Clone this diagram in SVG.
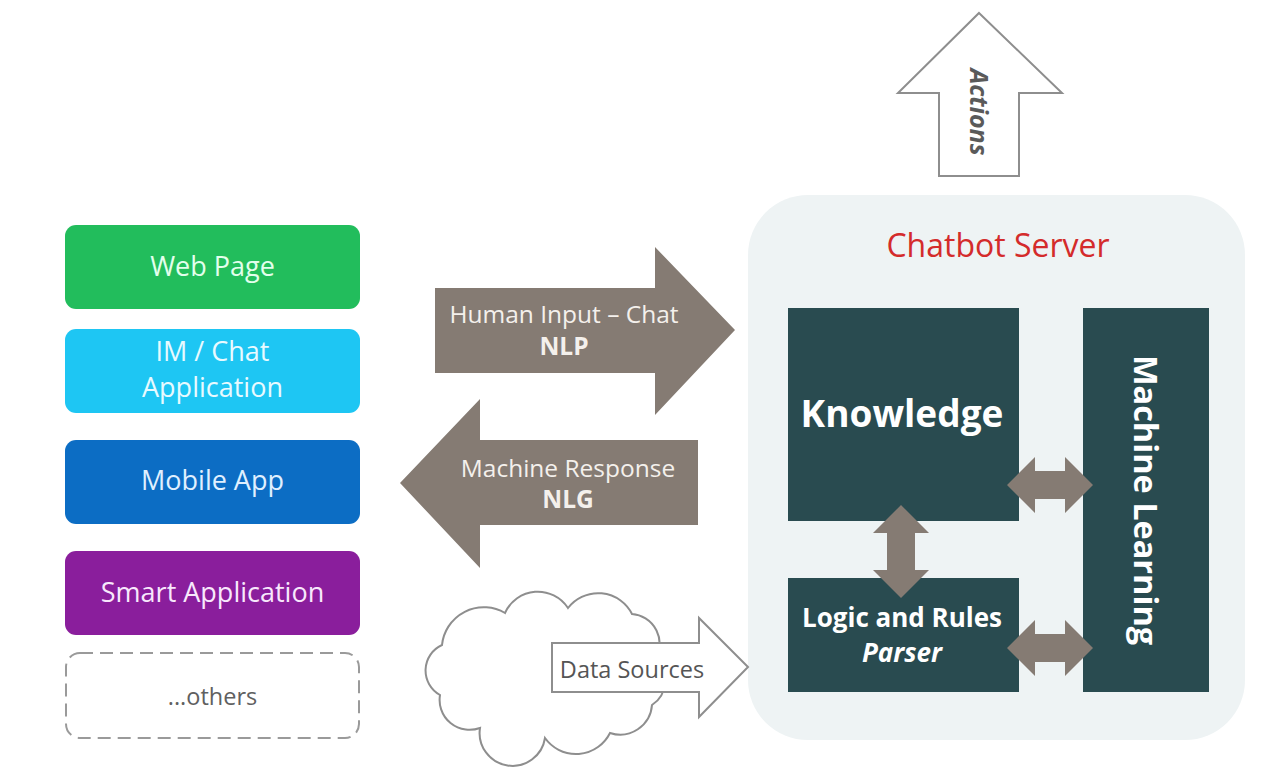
<svg xmlns="http://www.w3.org/2000/svg" width="1271" height="770" viewBox="0 0 1271 770">
<style>
text{font-family:'Open Sans','DejaVu Sans',sans-serif;}
.ct{font-size:27px;text-anchor:middle;}
.at{font-size:24.5px;text-anchor:middle;fill:#F4F0EC;}
.dk{fill:#294B50;}
.ga{fill:#857B73;}
.wt{fill:#FFFFFF;font-weight:bold;text-anchor:middle;}
.ol{fill:#FFFFFF;stroke:#8E8E8E;stroke-width:2;stroke-linejoin:miter;}
</style>
<rect width="1271" height="770" fill="#FFFFFF"/>

<g id="web-page">
<rect x="65" y="225" width="295" height="84" rx="11" fill="#22BD5C"/>
<text class="ct" x="212.5" y="276" fill="#E2FFEC">Web Page</text>
</g>
<g id="im-chat">
<rect x="65" y="329" width="295" height="84" rx="11" fill="#1EC6F3"/>
<text class="ct" x="212.5" y="361" font-size="26" fill="#E8FAFF">IM / Chat</text>
<text class="ct" x="212.5" y="397" font-size="26" fill="#E8FAFF">Application</text>
</g>
<g id="mobile-app">
<rect x="65" y="440" width="295" height="84" rx="11" fill="#0C6DC4"/>
<text class="ct" x="212.5" y="490" fill="#E0F0FF">Mobile App</text>
</g>
<g id="smart-app">
<rect x="65" y="551" width="295" height="84" rx="11" fill="#8A1E9C"/>
<text class="ct" x="212.5" y="602" fill="#F8E8FC">Smart Application</text>
</g>
<g id="others">
<rect x="66" y="653" width="293" height="85" rx="14" fill="#FFFFFF" stroke="#9A9A9A" stroke-width="2" stroke-dasharray="13 7"/>
<text x="212.5" y="705" font-size="23.5" text-anchor="middle" fill="#606060">...others</text>
</g>

<g id="chatbot-server">
<rect x="748" y="195" width="497" height="545" rx="60" fill="#EEF3F4"/>
<text x="998" y="257" font-size="32" text-anchor="middle" fill="#D42B2B">Chatbot Server</text>
</g>
<g id="knowledge">
<rect class="dk" x="788" y="308" width="231" height="213"/>
<text class="wt" x="902" y="427" font-size="37">Knowledge</text>
</g>
<g id="logic-rules">
<rect class="dk" x="788" y="578" width="231" height="114"/>
<text class="wt" x="902" y="627" font-size="26">Logic and Rules</text>
<text class="wt" x="902" y="662" font-size="26" font-style="italic">Parser</text>
</g>
<g id="machine-learning">
<rect class="dk" x="1083" y="308" width="126" height="384"/>
<text class="wt" transform="translate(1134,500) rotate(90)" font-size="32.5">Machine Learning</text>
</g>

<g id="data-cloud">
<path class="ol" stroke="#9A9A9A" d="M442,645 A42,42 0 0 1 505,613 A36,36 0 0 1 568,608 A38,38 0 0 1 632,614 A30,30 0 0 1 655,660 A28,28 0 0 1 652,705 A32,32 0 0 1 610,733 A38,38 0 0 1 545,738 A32,32 0 0 1 480,728 A30,30 0 0 1 440,695 A28,28 0 0 1 442,645 Z"/>
</g>

<g id="connectors">
<g id="human-input">
<polygon class="ga" points="435,288 655,288 655,247 735,330 655,415 655,373 435,373"/>
<text class="at" x="564" y="323">Human Input – Chat</text>
<text class="at" x="564" y="355" font-weight="bold">NLP</text>
</g>
<g id="machine-response">
<polygon class="ga" points="698,440 480,440 480,399 400,483 480,568 480,525 698,525"/>
<text class="at" x="568" y="477">Machine Response</text>
<text class="at" x="568" y="508" font-weight="bold">NLG</text>
</g>
<g id="actions">
<polygon class="ol" points="979,13 1062,93 1019,93 1019,176 939,176 939,93 898,93"/>
<text transform="translate(970,112) rotate(90)" font-size="25" font-weight="bold" font-style="italic" text-anchor="middle" fill="#5A5A5A">Actions</text>
</g>
<g id="data-sources">
<polygon class="ol" stroke="#9A9A9A" points="552,643 699,643 699,618 748,667 699,717 699,692 552,692"/>
<text x="632" y="678" font-size="23.5" text-anchor="middle" fill="#555555">Data Sources</text>
</g>
<polygon class="ga" points="901,505 929,533 915,533 915,570 929,570 901,598 873,570 887,570 887,533 873,533"/>
<polygon class="ga" points="1007,485 1035,457 1035,471 1065,471 1065,457 1093,485 1065,513 1065,499 1035,499 1035,513"/>
<polygon class="ga" points="1007,648 1035,620 1035,634 1065,634 1065,620 1093,648 1065,676 1065,662 1035,662 1035,676"/>
</g>
</svg>
